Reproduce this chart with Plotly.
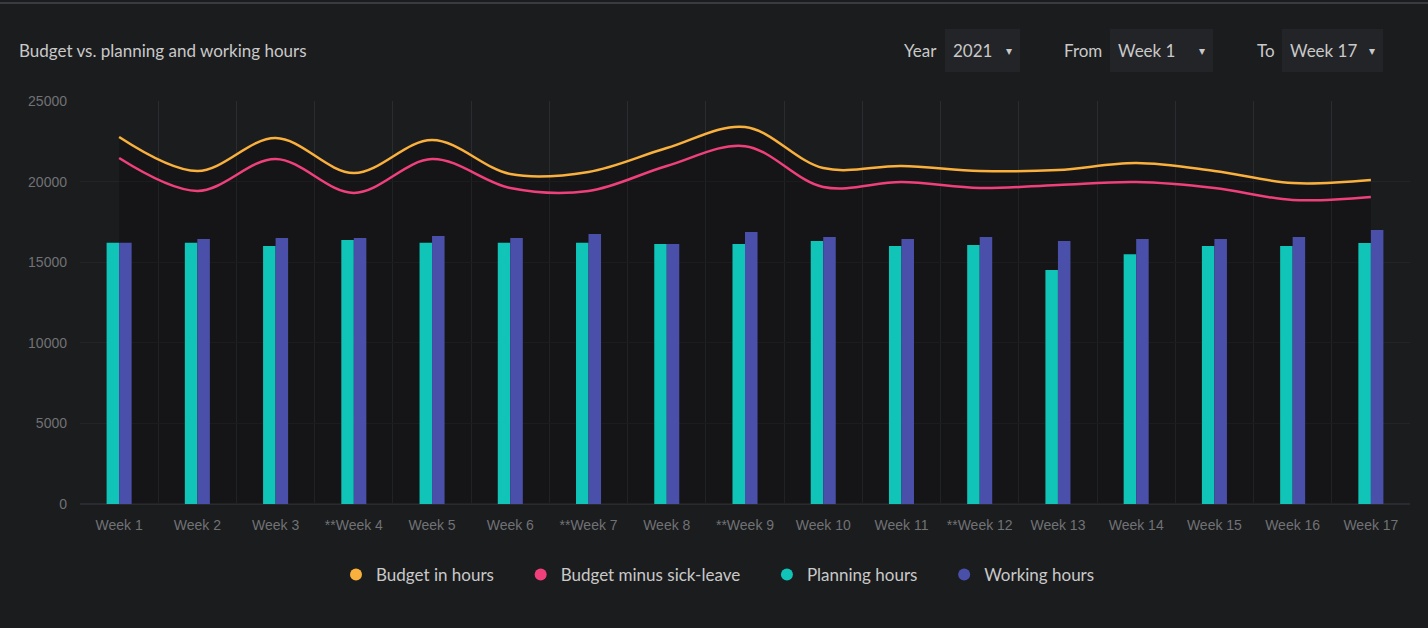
import plotly.graph_objects as go

weeks = ["Week 1", "Week 2", "Week 3", "**Week 4", "Week 5", "Week 6", "**Week 7", "Week 8",
         "**Week 9", "Week 10", "Week 11", "**Week 12", "Week 13", "Week 14", "Week 15", "Week 16", "Week 17"]
budget_hours = [22770, 20660, 22700, 20530, 22580, 20470, 20600, 22080, 23390, 20840,
                20970, 20660, 20720, 21150, 20660, 19910, 20100]
budget_minus_sick = [21460, 19420, 21400, 19300, 21400, 19600, 19420, 20970, 22200, 19660,
                     19970, 19600, 19790, 19970, 19600, 18860, 19050]
planning_hours = [16200, 16200, 16000, 16380, 16200, 16200, 16200, 16130, 16130, 16320,
                  16000, 16070, 14520, 15500, 16000, 16000, 16190]
working_hours = [16200, 16440, 16500, 16500, 16620, 16500, 16750, 16130, 16870, 16560,
                 16440, 16560, 16320, 16440, 16440, 16560, 17000]
y_ticks = [0, 5000, 10000, 15000, 20000, 25000]
y_tick_labels = ["0", "5000", "10000", "15000", "20000", "25000"]

C_BUDGET = "#f9b03d"
C_SICK = "#f0407b"
C_PLAN = "#10c4b7"
C_WORK = "#4a50aa"
BG = "#1b1c1e"
TXT = "#c9c9c9"

W, H = 1428, 628
L, R, T, B = 80, 18, 101, 124
PW, PH = W - L - R, H - T - B


def px(p):
    return (p - L) / PW


def py(p):
    return (H - B - p) / PH


fig = go.Figure()

# dark fill under budget line
fig.add_trace(go.Scatter(x=weeks, y=budget_hours, mode="lines", line=dict(width=0, shape="spline"),
                         fill="tozeroy", fillcolor="rgba(0,0,0,0.22)", showlegend=False,
                         hoverinfo="skip", zorder=-1))

fig.add_trace(go.Bar(x=weeks, y=planning_hours, name="Planning hours", marker=dict(color=C_PLAN, line=dict(width=0)),
                     showlegend=False))
fig.add_trace(go.Bar(x=weeks, y=working_hours, name="Working hours", marker=dict(color=C_WORK, line=dict(width=0)),
                     showlegend=False))
fig.add_trace(go.Scatter(x=weeks, y=budget_hours, mode="lines", name="Budget in hours",
                         line=dict(color=C_BUDGET, width=2.5, shape="spline", smoothing=1.0), showlegend=False))
fig.add_trace(go.Scatter(x=weeks, y=budget_minus_sick, mode="lines", name="Budget minus sick-leave",
                         line=dict(color=C_SICK, width=2.5, shape="spline", smoothing=1.0), showlegend=False))

# legend entries with round markers
pad = "\u00a0" * 5
for name, col in [("Budget in hours" + pad, C_BUDGET), ("Budget minus sick-leave" + pad, C_SICK),
                  ("Planning hours" + pad, C_PLAN), ("Working hours", C_WORK)]:
    fig.add_trace(go.Scatter(x=[None], y=[None], mode="markers", name=name,
                             marker=dict(color=col, size=15, symbol="circle")))

fig.update_layout(
    width=W, height=H,
    margin=dict(l=L, r=R, t=T, b=B),
    paper_bgcolor=BG, plot_bgcolor=BG,
    barmode="group", bargap=0.68, bargroupgap=0,
    font=dict(family="Lato", color=TXT),
    showlegend=True,
    legend=dict(orientation="h", x=px(718), xanchor="center", y=py(575), yanchor="middle",
                font=dict(family="Lato", size=17, color=TXT), itemsizing="constant",
                bgcolor="rgba(0,0,0,0)", traceorder="normal"),
    xaxis=dict(type="category", tickson="boundaries", showgrid=True, gridcolor="#2b2c2f", gridwidth=1,
               ticks="", showline=False, zeroline=False,
               tickfont=dict(family="Liberation Sans", size=14, color="#707275"),
               ticklabelstandoff=11,
               range=[-0.5, 16.5], fixedrange=True),
    yaxis=dict(range=[0, 25000], tickvals=y_ticks, ticktext=y_tick_labels, showgrid=True,
               gridcolor="#232427", gridwidth=1,
               zeroline=True, zerolinecolor="#2a2b2e", showline=False, ticks="",
               tickfont=dict(family="Liberation Sans", size=14, color="#707275"),
               ticklabelstandoff=12, fixedrange=True),
)

shapes = []
annotations = []

# top border line
shapes.append(dict(type="line", xref="paper", yref="paper", x0=px(0), x1=px(W), y0=py(3), y1=py(3),
                   line=dict(color="#3a3b3e", width=2)))

# title
annotations.append(dict(text="Budget vs. planning and working hours", xref="paper", yref="paper",
                        x=px(17), y=py(51), xanchor="left", yanchor="middle", showarrow=False,
                        font=dict(family="Lato", size=17, color=TXT)))

# dropdown controls
controls = [("Year", 902, "2021", 945, 1020), ("From", 1062, "Week 1", 1110, 1213), ("To", 1255, "Week 17", 1282, 1383)]
for label, lx, val, bx0, bx1 in controls:
    shapes.append(dict(type="rect", xref="paper", yref="paper", x0=px(bx0), x1=px(bx1), y0=py(72), y1=py(29),
                       fillcolor="#232427", line=dict(width=0), layer="below"))
    annotations.append(dict(text=label, xref="paper", yref="paper", x=px(lx), y=py(51), xanchor="left",
                            yanchor="middle", showarrow=False, font=dict(family="Lato", size=17, color=TXT)))
    annotations.append(dict(text=val, xref="paper", yref="paper", x=px(bx0 + 6), y=py(51), xanchor="left",
                            yanchor="middle", showarrow=False, font=dict(family="Lato", size=17, color=TXT)))
    annotations.append(dict(text="▾", xref="paper", yref="paper", x=px(bx1 - 11), y=py(51), xanchor="center",
                            yanchor="middle", showarrow=False, font=dict(family="DejaVu Sans", size=12, color=TXT)))

fig.update_layout(shapes=shapes, annotations=annotations)

fig.write_html("out.html")
